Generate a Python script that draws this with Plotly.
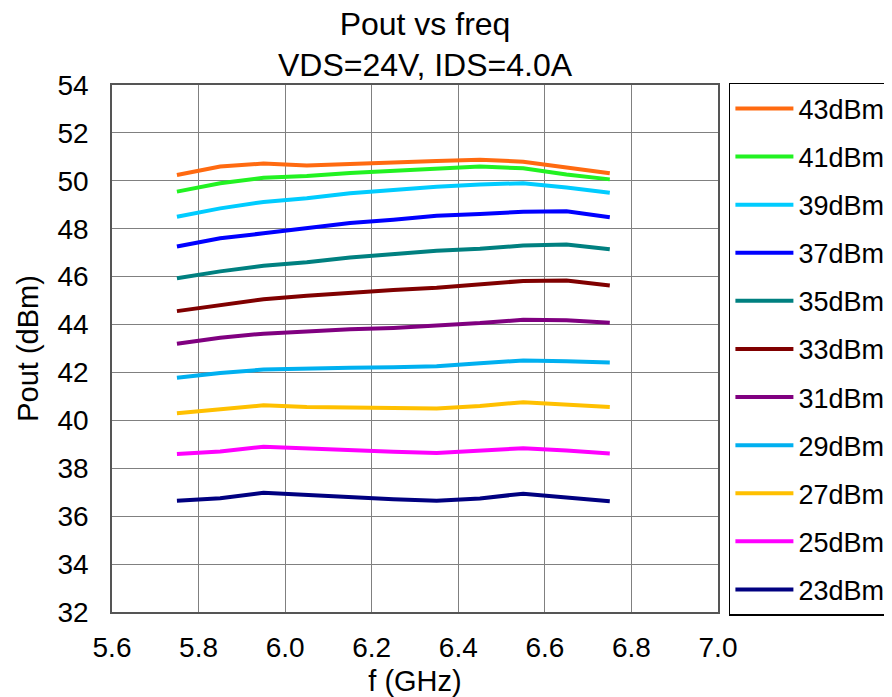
import plotly.graph_objects as go

freq = [5.75, 5.85, 5.95, 6.05, 6.15, 6.25, 6.35, 6.45, 6.55, 6.65, 6.75]

p43 = [50.24, 50.6, 50.72, 50.64, 50.7, 50.78, 50.83, 50.88, 50.8, 50.56, 50.32]
p41 = [49.55, 49.9, 50.13, 50.2, 50.33, 50.43, 50.53, 50.6, 50.52, 50.26, 50.06]
p39 = [48.5, 48.85, 49.12, 49.27, 49.48, 49.62, 49.75, 49.85, 49.9, 49.72, 49.5]
p37 = [47.26, 47.6, 47.81, 48.02, 48.24, 48.37, 48.54, 48.62, 48.71, 48.73, 48.48]
p35 = [45.93, 46.22, 46.45, 46.6, 46.8, 46.96, 47.08, 47.16, 47.3, 47.34, 47.14]
p33 = [44.56, 44.8, 45.06, 45.2, 45.33, 45.44, 45.54, 45.66, 45.82, 45.84, 45.63]
p31 = [43.2, 43.45, 43.62, 43.72, 43.8, 43.86, 43.95, 44.06, 44.2, 44.18, 44.07]
p29 = [41.78, 41.98, 42.12, 42.17, 42.2, 42.22, 42.26, 42.38, 42.5, 42.47, 42.42]
p27 = [40.3, 40.46, 40.63, 40.56, 40.52, 40.52, 40.5, 40.6, 40.76, 40.66, 40.56]
p25 = [38.6, 38.7, 38.9, 38.82, 38.74, 38.69, 38.64, 38.72, 38.84, 38.74, 38.62]
p23 = [36.64, 36.75, 36.98, 36.88, 36.78, 36.71, 36.64, 36.74, 36.94, 36.76, 36.62]

names = ["43dBm", "41dBm", "39dBm", "37dBm", "35dBm", "33dBm",
         "31dBm", "29dBm", "27dBm", "25dBm", "23dBm"]
series = [p43, p41, p39, p37, p35, p33, p31, p29, p27, p25, p23]
colors = ["#FF6A10", "#22F222", "#00CCFF", "#0000FF", "#008080", "#800000",
          "#800080", "#00B0F0", "#FFC000", "#FF00FF", "#000080"]

x_ticks = [5.6, 5.8, 6.0, 6.2, 6.4, 6.6, 6.8, 7.0]
y_ticks = [32, 34, 36, 38, 40, 42, 44, 46, 48, 50, 52, 54]

FONT = "Liberation Sans, Arial, sans-serif"

fig = go.Figure()
for name, vals, col in zip(names, series, colors):
    fig.add_trace(go.Scatter(
        x=freq, y=vals, mode="lines", name=name, legendgroup=name,
        line=dict(color=col, width=4),
    ))

# the page adds an 8px body margin, so the figure is laid out 8px up/left
fig.update_layout(
    width=892, height=697,
    margin=dict(l=104, r=182, t=77, b=93, autoexpand=False),
    paper_bgcolor="white", plot_bgcolor="white",
    font=dict(family=FONT, color="black", size=28),
    title=dict(
        text="Pout vs freq<br>VDS=24V, IDS=4.0A",
        x=417 / 892, xanchor="center", y=0.962, yanchor="top",
        font=dict(size=32, family=FONT, color="black"),
    ),
    showlegend=True,
    legend=dict(
        x=1.018, xanchor="left", y=1.004, yanchor="top",
        bordercolor="black", borderwidth=1.5, bgcolor="white",
        font=dict(size=27, family=FONT, color="black"),
        tracegroupgap=10, traceorder="grouped",
        itemwidth=58, maxheight=697,
    ),
)

fig.update_xaxes(
    range=[5.6, 7.0], tickvals=x_ticks,
    ticktext=[f"{v:.1f}" for v in x_ticks],
    showgrid=True, gridcolor="#808080", gridwidth=1.3,
    showline=True, linecolor="#555555", linewidth=1.5, mirror=True,
    ticks="", zeroline=False, ticklabelstandoff=10,
    tickfont=dict(size=28, family=FONT, color="black"),
    title=dict(text="f (GHz)", font=dict(size=29, family=FONT, color="black"), standoff=8),
)
fig.update_yaxes(
    range=[32, 54], tickvals=y_ticks,
    showgrid=True, gridcolor="#808080", gridwidth=1.3,
    showline=True, linecolor="#555555", linewidth=1.5, mirror=True,
    ticks="", zeroline=False, ticklabelstandoff=16,
    tickfont=dict(size=28, family=FONT, color="black"),
    title=dict(text="Pout (dBm)", font=dict(size=29, family=FONT, color="black"), standoff=10),
)

fig.write_html("out.html")
